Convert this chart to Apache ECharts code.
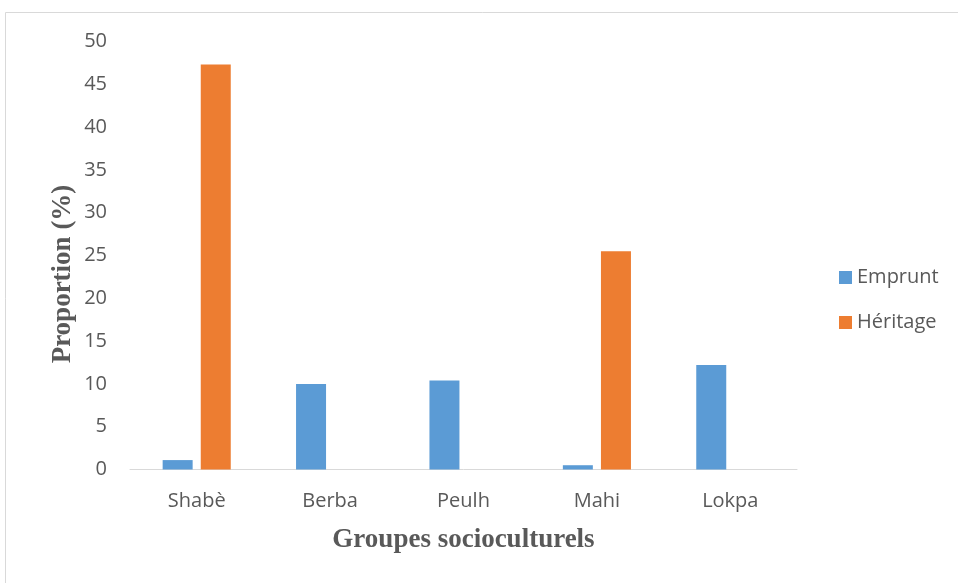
<!DOCTYPE html>
<html>
<head>
<meta charset="utf-8">
<script src="https://cdn.jsdelivr.net/npm/echarts@6/dist/echarts.min.js"></script>
<style>
  html, body { margin: 0; padding: 0; background: #ffffff; }
  #chart { width: 958px; height: 583px; }
</style>
</head>
<body>
<div id="chart"></div>
<script>
// Groupes socioculturels and their share of each mode of acquisition
const categories = ['Shabè', 'Berba', 'Peulh', 'Mahi', 'Lokpa'];
const emprunt = [1.1, 10.0, 10.4, 0.5, 12.2];
const heritage = [47.3, 0, 0, 25.5, 0];
const yTicks = { min: 0, max: 50, interval: 5 };

const chart = echarts.init(document.getElementById('chart'), null, { renderer: 'canvas' });

const labelFont = "'Open Sans', 'Liberation Sans', sans-serif";
const titleFont = "'Liberation Serif', 'Times New Roman', serif";

chart.setOption({
  animation: false,
  backgroundColor: '#ffffff',
  graphic: [
    {
      type: 'rect',
      shape: { x: 5.5, y: 12.5, width: 1000, height: 1000 },
      style: { fill: 'none', stroke: '#d9d9d9', lineWidth: 1 },
      silent: true
    },
    {
      type: 'text',
      x: 63,
      y: 274,
      rotation: Math.PI / 2,
      silent: true,
      style: {
        text: 'Proportion (%)',
        font: "bold 27px " + titleFont,
        fill: '#595959',
        align: 'center',
        verticalAlign: 'middle'
      }
    }
  ],
  legend: {
    orient: 'vertical',
    left: 839,
    top: 267.5,
    padding: 0,
    itemWidth: 13,
    itemHeight: 13,
    itemGap: 25,
    icon: 'rect',
    textStyle: { fontSize: 20, lineHeight: 20, color: '#595959', fontFamily: labelFont },
    data: ['Emprunt', 'Héritage']
  },
  grid: { left: 130, right: 161, top: 41.5, bottom: 113.5, containLabel: false },
  xAxis: {
    type: 'category',
    data: categories,
    name: 'Groupes socioculturels',
    nameLocation: 'middle',
    nameGap: 57,
    nameTextStyle: { fontFamily: titleFont, fontWeight: 'bold', fontSize: 27, color: '#595959' },
    axisLine: { lineStyle: { color: '#d9d9d9', width: 1 } },
    axisTick: { show: false },
    axisLabel: { fontSize: 20, color: '#595959', fontFamily: labelFont, margin: 22 }
  },
  yAxis: {
    type: 'value',
    min: yTicks.min,
    max: yTicks.max,
    interval: yTicks.interval,
    axisLine: { show: false },
    axisTick: { show: false },
    splitLine: { show: false },
    axisLabel: { fontSize: 20, color: '#595959', fontFamily: labelFont, margin: 23 }
  },
  series: [
    {
      name: 'Emprunt',
      type: 'bar',
      data: emprunt,
      barWidth: 30,
      barGap: '27%',
      itemStyle: { color: '#5b9bd5' }
    },
    {
      name: 'Héritage',
      type: 'bar',
      data: heritage,
      barWidth: 30,
      barGap: '27%',
      itemStyle: { color: '#ed7d31' }
    }
  ]
});
</script>
</body>
</html>
